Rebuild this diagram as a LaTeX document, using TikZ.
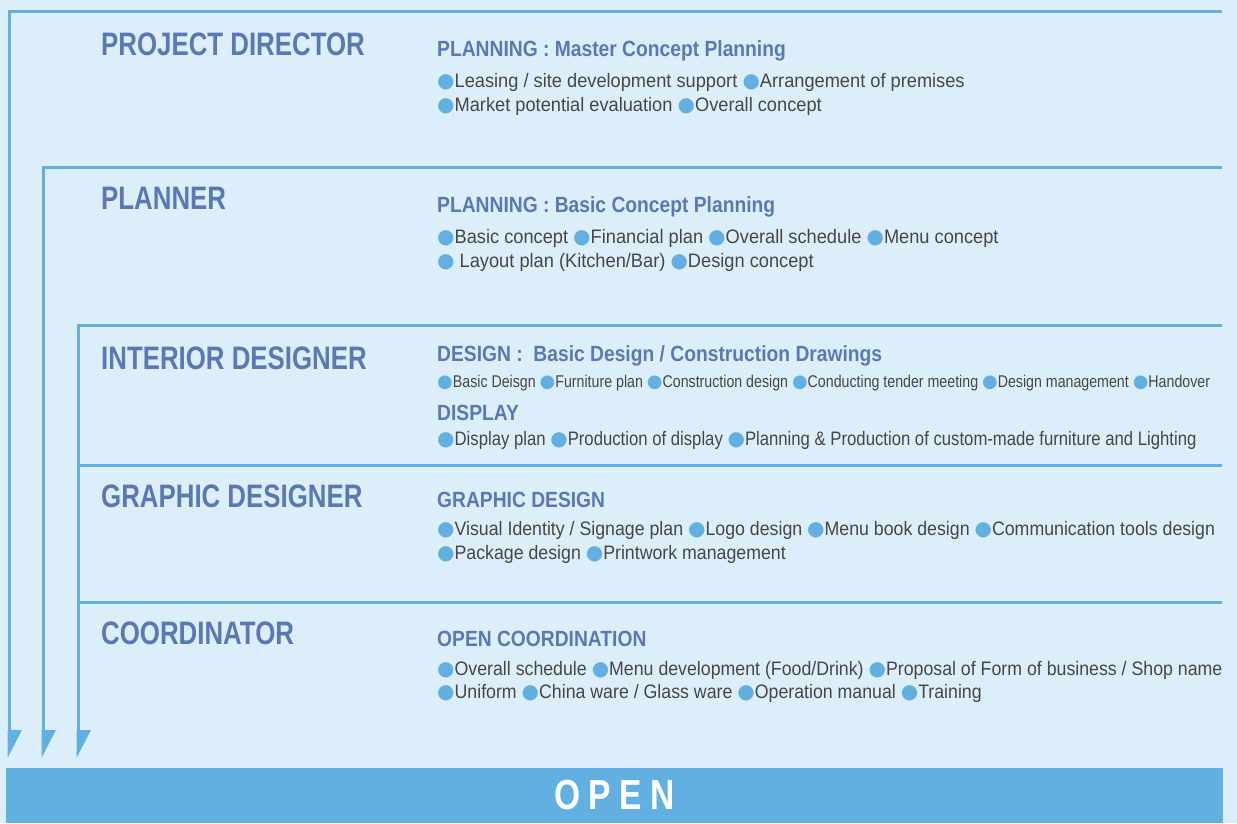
\documentclass[tikz,border=0pt]{standalone}
\usepackage{fontspec}
\setmainfont{Liberation Sans}[FakeStretch=0.8]
\newfontfamily\dejavu{DejaVu Sans}
\definecolor{bgc}{HTML}{DDEEFB}
\definecolor{linec}{HTML}{62AFE2}
\definecolor{headc}{HTML}{5A78B4}
\definecolor{bodyc}{HTML}{464646}
\newcommand\bul{{\color{linec}\dejavu\fontsize{20}{20}\selectfont ●}}
\newcommand\sbul{{\color{linec}\dejavu\fontsize{18}{18}\selectfont ●}}
\begin{document}
\begin{tikzpicture}[x=1pt,y=-1pt,
  rule/.style={draw=linec, line width=3pt},
  tipc/.style={fill=linec},
  role/.style={anchor=base west, inner sep=0pt, text=headc, font=\fontsize{32.5}{36}\selectfont\bfseries\addfontfeature{FakeStretch=0.795}},
  sub/.style={anchor=base west, inner sep=0pt, text=headc, font=\fontsize{22}{26}\selectfont\bfseries\addfontfeature{FakeStretch=0.875}},
  body/.style={anchor=base west, inner sep=0pt, text=bodyc, font=\fontsize{19.5}{22}\selectfont\addfontfeature{FakeStretch=0.91}},
  bodyw/.style={anchor=base west, inner sep=0pt, text=bodyc, font=\fontsize{19.5}{22}\selectfont\addfontfeature{FakeStretch=0.935}},
  bodyn/.style={anchor=base west, inner sep=0pt, text=bodyc, font=\fontsize{19.5}{22}\selectfont\addfontfeature{FakeStretch=0.857}},
  small/.style={anchor=base west, inner sep=0pt, text=bodyc, font=\fontsize{17}{20}\selectfont\addfontfeature{FakeStretch=0.835}}]
\fill[bgc] (0,0) rectangle (1237,823);
\useasboundingbox (0,0) rectangle (1237,823);
% corners and arrow ends
\coordinate (c1) at (9,11);   \coordinate (e1) at (1222,11);
\coordinate (c2) at (43,167); \coordinate (e2) at (1222,167);
\coordinate (c3) at (78,325); \coordinate (e3) at (1222,325);
\coordinate (g1) at (78,465); \coordinate (g2) at (1222,465);
\coordinate (k1) at (78,602); \coordinate (k2) at (1222,602);
\coordinate (t1) at (9,731);  \coordinate (t2) at (43,731); \coordinate (t3) at (78,731);
% OPEN bar
\node[fill=linec, minimum width=1217pt, minimum height=55pt, inner sep=0pt,
      text=white, font=\fontsize{42}{46}\selectfont\bfseries\addfontfeature{LetterSpace=20}]
      (open) at (614.5,795.5) {OPEN};
% rules
\draw[rule] (e1) -- (c1) -- (t1);
\draw[rule] (e2) -- (c2) -- (t2);
\draw[rule] (e3) -- (c3) -- (t3);
\draw[rule] (g1) -- (g2);
\draw[rule] (k1) -- (k2);
% half arrowheads
\fill[tipc] (7.5,730) -- (22,730) -- (7.5,758) -- cycle;
\fill[tipc] (41.5,730) -- (56,730) -- (41.5,758) -- cycle;
\fill[tipc] (76.5,730) -- (91,730) -- (76.5,758) -- cycle;
% roles
\node[role] (r1) at (101,55) {PROJECT DIRECTOR};
\node[role] (r2) at (101,209) {PLANNER};
\node[role] (r3) at (101,369) {INTERIOR DESIGNER};
\node[role] (r4) at (101,507) {GRAPHIC DESIGNER};
\node[role] (r5) at (101,644) {COORDINATOR};
% project director
\node[sub] (s1) at (437,56) {PLANNING : Master Concept Planning};
\node[bodyw] (b11) at (437,87) {\bul Leasing / site development support \bul Arrangement of premises};
\node[bodyw] (b12) at (437,111) {\bul Market potential evaluation \bul Overall concept};
% planner
\node[sub] (s2) at (437,212) {PLANNING : Basic Concept Planning};
\node[bodyw] (b21) at (437,243) {\bul Basic concept \bul Financial plan \bul Overall schedule \bul Menu concept};
\node[bodyw] (b22) at (437,267) {\bul\ Layout plan (Kitchen/Bar) \bul Design concept};
% interior designer
\node[sub] (s3) at (437,361) {DESIGN :\ \ Basic Design / Construction Drawings};
\node[small] (b31) at (437,387) {\sbul Basic Deisgn \sbul Furniture plan \sbul Construction design \sbul Conducting tender meeting \sbul Design management \sbul Handover};
\node[sub] (s4) at (437,420) {DISPLAY};
\node[bodyn] (b32) at (437,445) {\bul Display plan \bul Production of display \bul Planning \& Production of custom-made furniture and Lighting};
% graphic designer
\node[sub] (s5) at (437,507) {GRAPHIC DESIGN};
\node[body] (b41) at (437,535) {\bul Visual Identity / Signage plan \bul Logo design \bul Menu book design \bul Communication tools design};
\node[body] (b42) at (437,559) {\bul Package design \bul Printwork management};
% coordinator
\node[sub] (s6) at (437,646) {OPEN COORDINATION};
\node[body] (b51) at (437,675) {\bul Overall schedule \bul Menu development (Food/Drink) \bul Proposal of Form of business / Shop name};
\node[body] (b52) at (437,698) {\bul Uniform \bul China ware / Glass ware \bul Operation manual \bul Training};
\end{tikzpicture}
\end{document}
